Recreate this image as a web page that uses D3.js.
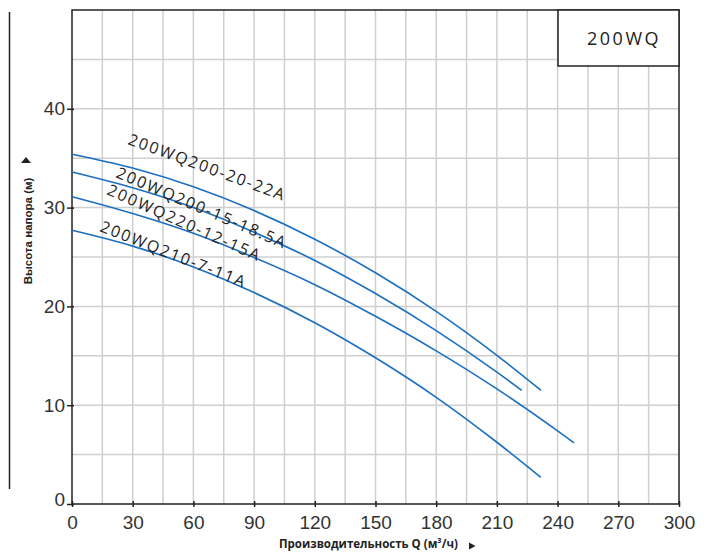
<!DOCTYPE html>
<html>
<head>
<meta charset="utf-8">
<script src="https://cdn.jsdelivr.net/npm/d3@7"></script>
<style>
  html, body { margin: 0; padding: 0; background: #fff; }
  svg { display: block; }
</style>
</head>
<body>
<svg id="chart" width="708" height="553"></svg>
<script>
// ---- data ----
const seriesNames = ["200WQ200-20-22A", "200WQ200-15-18.5A", "200WQ220-12-15A", "200WQ210-7-11A"];
const flowQ1 = [0, 30, 60, 90, 120, 150, 180, 210, 231.8];
const head1  = [35.4, 34.0, 32.1, 29.7, 26.8, 23.4, 19.5, 15.05, 11.5];
const flowQ2 = [0, 30, 60, 90, 120, 150, 180, 210, 222.3];
const head2  = [33.6, 32.0, 30.0, 27.5, 24.65, 21.3, 17.55, 13.35, 11.5];
const flowQ3 = [0, 30, 60, 90, 120, 150, 180, 210, 240, 248.1];
const head3  = [31.1, 29.4, 27.4, 24.95, 22.2, 19.0, 15.5, 11.65, 7.4, 6.2];
const flowQ4 = [0, 30, 60, 90, 120, 150, 180, 210, 231.7];
const head4  = [27.7, 26.1, 24.0, 21.4, 18.35, 14.8, 10.8, 6.25, 2.7];
const xTickValues = [0, 30, 60, 90, 120, 150, 180, 210, 240, 270, 300];
const yTickValues = [0, 10, 20, 30, 40];
const xTitle = "Производительность Q (м³/ч)";
const yTitle = "Высота напора (м)";
const boxTitle = "200WQ";

// ---- layout ----
const svg = d3.select("#chart");
const x = d3.scaleLinear().domain([0, 300]).range([72, 679]);
const y = d3.scaleLinear().domain([0, 50]).range([504, 10]);
const ink = "#222";
const blue = "#1b6fc0";

// grid
const gx = d3.range(15, 300, 15);
const gy = d3.range(5, 50, 5);
const grid = svg.append("g").attr("stroke", "#cfcfcf").attr("stroke-width", 1.5);
grid.selectAll("line.v").data(gx).join("line")
  .attr("x1", d => x(d)).attr("x2", d => x(d)).attr("y1", y(50)).attr("y2", y(0));
grid.selectAll("line.h").data(gy).join("line")
  .attr("x1", x(0)).attr("x2", x(300)).attr("y1", d => y(d)).attr("y2", d => y(d));

// frame
svg.append("rect").attr("x", x(0)).attr("y", y(50))
  .attr("width", x(300) - x(0)).attr("height", y(0) - y(50))
  .attr("fill", "none").attr("stroke", ink).attr("stroke-width", 1.5);

// curves
const series = [
  {name: seriesNames[0], q: flowQ1, h: head1},
  {name: seriesNames[1], q: flowQ2, h: head2},
  {name: seriesNames[2], q: flowQ3, h: head3},
  {name: seriesNames[3], q: flowQ4, h: head4}
];
const line = d3.line().x(d => x(d[0])).y(d => y(d[1])).curve(d3.curveMonotoneX);
svg.append("g").selectAll("path").data(series).join("path")
  .attr("d", s => line(s.q.map((q, i) => [q, s.h[i]])))
  .attr("fill", "none").attr("stroke", blue).attr("stroke-width", 1.6);

// curve labels
const labelPos = [
  {x: 127, y: 144, a: 20},
  {x: 115, y: 177, a: 23},
  {x: 106, y: 194, a: 24},
  {x: 99,  y: 231, a: 21.5}
];
svg.append("g").selectAll("text").data(series).join("text")
  .attr("transform", (s, i) => `translate(${labelPos[i].x},${labelPos[i].y}) rotate(${labelPos[i].a})`)
  .attr("font-family", "'Open Sans', sans-serif").attr("font-size", 16)
  .attr("letter-spacing", 1.85).attr("fill", ink)
  .text(s => s.name);

// axes
const xAxis = svg.append("g").attr("transform", `translate(0,${y(0)})`)
  .call(d3.axisBottom(x).tickValues(xTickValues).tickSize(4).tickPadding(7.5));
xAxis.select(".domain").remove();
xAxis.selectAll(".tick line").attr("y1", -3).attr("y2", 3).attr("stroke", ink).attr("stroke-width", 1.5);
xAxis.selectAll(".tick text").attr("font-family", "'Liberation Sans', Arial, sans-serif")
  .attr("font-size", 19).attr("fill", "#333");

const yAxis = svg.append("g").attr("transform", `translate(${x(0)},0)`)
  .call(d3.axisLeft(y).tickValues(yTickValues).tickSize(5).tickPadding(2));
yAxis.select(".domain").remove();
yAxis.selectAll(".tick line").attr("x1", 2).attr("x2", -5).attr("stroke", ink).attr("stroke-width", 1.5);
yAxis.selectAll(".tick text").attr("font-family", "'Liberation Sans', Arial, sans-serif")
  .attr("font-size", 19).attr("fill", "#333")
  .attr("dy", d => d === 0 ? "0.08em" : "0.32em");

// legend box
svg.append("rect").attr("x", 558).attr("y", 10).attr("width", 121).attr("height", 56)
  .attr("fill", "#fff").attr("stroke", ink).attr("stroke-width", 1.5);
svg.append("text").attr("x", 624).attr("y", 45).attr("text-anchor", "middle")
  .attr("font-family", "'Open Sans', sans-serif").attr("font-size", 18)
  .attr("letter-spacing", 2.5).attr("fill", ink).text(boxTitle);

// left decorative line
svg.append("line").attr("x1", 9.5).attr("x2", 9.5).attr("y1", 12).attr("y2", 489)
  .attr("stroke", ink).attr("stroke-width", 1.5);

// axis titles
svg.append("text").attr("transform", "translate(31.5,231) rotate(-90)")
  .attr("text-anchor", "middle").attr("font-family", "'Liberation Sans', Arial, sans-serif")
  .attr("font-weight", "bold").attr("font-size", 11.5).attr("fill", ink).text(yTitle);
svg.append("path").attr("d", "M21,163 L31,163 L26,157 Z").attr("fill", ink);

svg.append("text").attr("x", 279).attr("y", 547.5)
  .attr("font-family", "'Open Sans', sans-serif").attr("font-weight", "bold")
  .attr("font-size", 11.5).attr("fill", ink).text(xTitle);
svg.append("path").attr("d", "M469,542.5 L469,549.5 L475.5,546 Z").attr("fill", ink);
</script>
</body>
</html>
